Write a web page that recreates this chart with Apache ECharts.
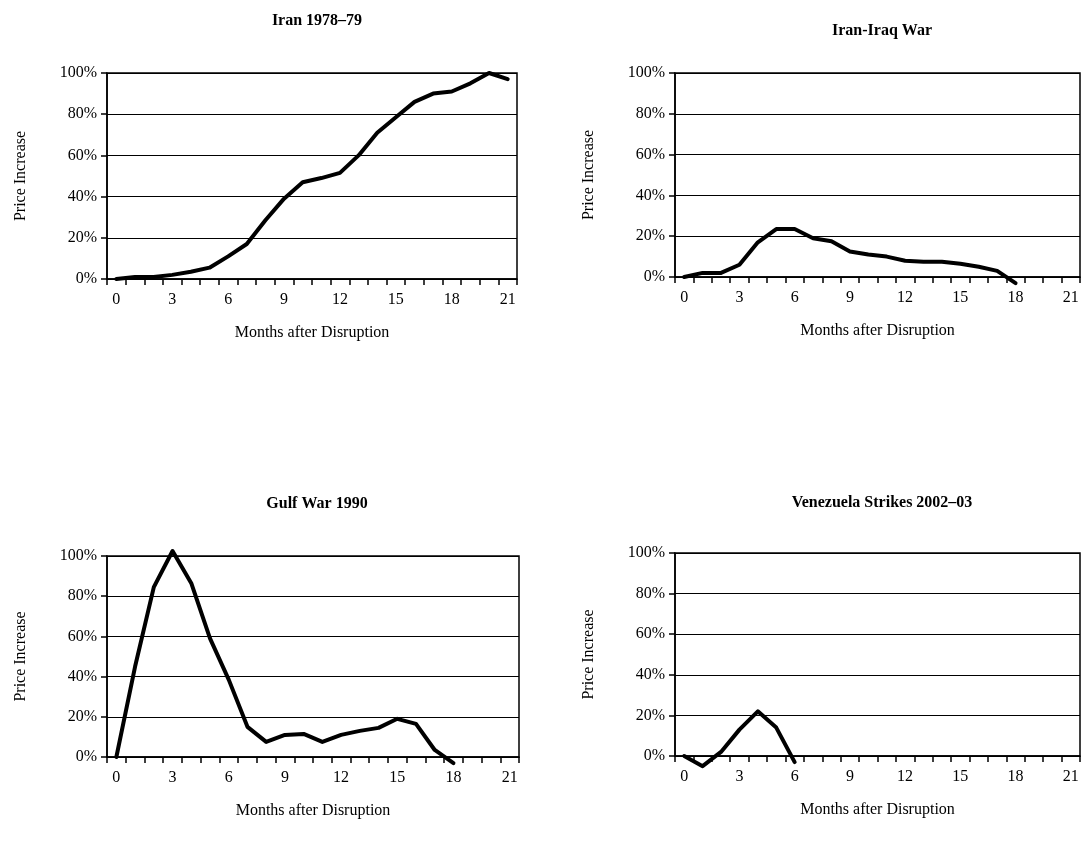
<!DOCTYPE html>
<html>
<head>
<meta charset="utf-8">
<script src="https://cdn.jsdelivr.net/npm/echarts@6/dist/echarts.min.js"></script>
<style>
  html, body { margin: 0; padding: 0; background: #fff; }
  #chart { width: 1091px; height: 844px; }
</style>
</head>
<body>
<div id="chart"></div>
<script>
var months = ['0','1','2','3','4','5','6','7','8','9','10','11','12','13','14','15','16','17','18','19','20','21'];
var yTicks = [0, 20, 40, 60, 80, 100];

var titles = ['Iran 1978\u201379', 'Iran-Iraq War', 'Gulf War 1990', 'Venezuela Strikes 2002\u201303'];

// price increase in %, one value per month after disruption
var iran7879 = [0, 1, 1, 2, 3.5, 5.5, 11, 17, 28.5, 39, 47, 49, 51.5, 60, 71, 78.5, 86, 90, 91, 95, 100, 97];
var iranIraq = [0, 2, 2, 6, 17, 23.5, 23.5, 19, 17.5, 12.5, 11, 10, 8, 7.5, 7.5, 6.5, 5, 3, -3];
var gulfWar = [0, 45, 84.5, 102.5, 86.5, 59, 38.5, 15, 7.5, 11, 11.5, 7.5, 11, 13, 14.5, 19, 16.5, 3.5, -3];
var venezuela = [0, -5, 2, 13, 22, 14, -3];

var allData = [iran7879, iranIraq, gulfWar, venezuela];

var myChart = echarts.init(document.getElementById('chart'));
var serif = 'Liberation Serif';

var grids = [
    {left: 107, top: 73, width: 410, height: 206},
    {left: 675, top: 73, width: 405, height: 204},
    {left: 107, top: 556, width: 412, height: 201},
    {left: 675, top: 553, width: 405, height: 203}
];
var titlePos = [[312, 8], [877, 18], [312, 491], [877, 490]];

var option = {
    backgroundColor: '#fff',
    animation: false,
    title: [],
    grid: [],
    xAxis: [],
    yAxis: [],
    series: []
};

for (var i = 0; i < 4; i++) {
    option.title.push({
        text: titles[i],
        left: titlePos[i][0],
        top: titlePos[i][1],
        textAlign: 'center',
        textStyle: {fontFamily: serif, fontWeight: 'bold', fontSize: 16, color: '#000'}
    });
    option.grid.push({
        left: grids[i].left, top: grids[i].top,
        width: grids[i].width, height: grids[i].height,
        show: true, borderColor: '#000', borderWidth: 1.5
    });
    option.xAxis.push({
        type: 'category',
        gridIndex: i,
        data: months,
        boundaryGap: true,
        name: 'Months after Disruption',
        nameLocation: 'middle',
        nameGap: 46,
        nameTextStyle: {fontFamily: serif, fontSize: 16, color: '#000'},
        axisLine: {show: true, lineStyle: {color: '#000', width: 1.5}},
        axisTick: {show: true, interval: 0, length: 6, lineStyle: {color: '#000', width: 1.5}},
        axisLabel: {interval: 2, margin: 13, fontFamily: serif, fontSize: 16, color: '#000'},
        splitLine: {show: false}
    });
    option.yAxis.push({
        type: 'value',
        gridIndex: i,
        min: yTicks[0],
        max: yTicks[yTicks.length - 1],
        interval: 20,
        name: 'Price Increase',
        nameLocation: 'middle',
        nameGap: 78,
        nameRotate: 90,
        nameTextStyle: {fontFamily: serif, fontSize: 16, color: '#000'},
        axisLine: {show: true, lineStyle: {color: '#000', width: 1.5}},
        axisTick: {show: true, length: 6, lineStyle: {color: '#000', width: 1.5}},
        axisLabel: {formatter: '{value}%', margin: 10, fontFamily: serif, fontSize: 16, color: '#000'},
        splitLine: {show: true, lineStyle: {color: '#000', width: 1.2}}
    });
    option.series.push({
        type: 'line',
        xAxisIndex: i,
        yAxisIndex: i,
        data: allData[i],
        symbol: 'none',
        clip: false,
        lineStyle: {color: '#000', width: 4, cap: 'round', join: 'round'}
    });
}

myChart.setOption(option);
</script>
</body>
</html>
